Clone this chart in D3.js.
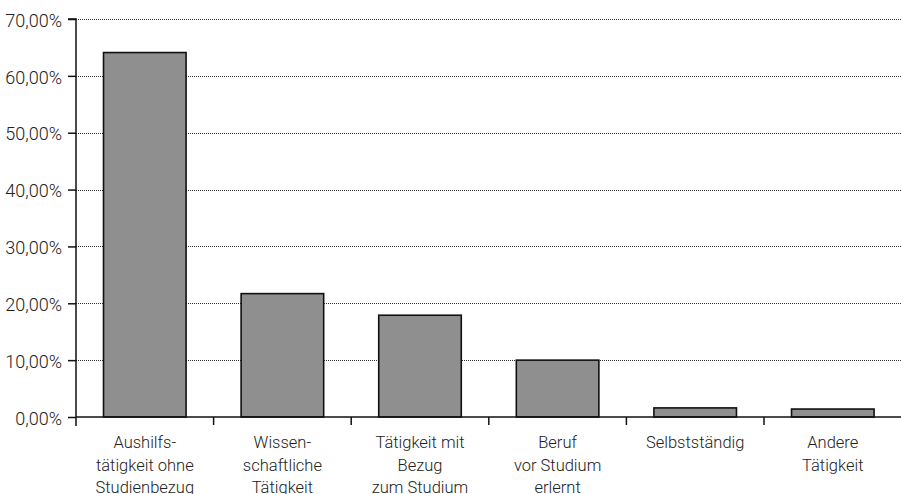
<!DOCTYPE html>
<html>
<head>
<meta charset="utf-8">
<script src="https://d3js.org/d3.v7.min.js"></script>
<style>
  html, body { margin: 0; padding: 0; background: #fff; }
  svg text { font-family: Roboto, "Liberation Sans", Arial, sans-serif; font-weight: 300; fill: #222; }
</style>
</head>
<body>
<div id="chart"></div>
<script>
// Tätigkeitsarten – Anteil in Prozent
const categories = [
    ['Aushilfs-', 'tätigkeit ohne', 'Studienbezug'],
    ['Wissen-', 'schaftliche', 'Tätigkeit'],
    ['Tätigkeit mit', 'Bezug', 'zum Studium'],
    ['Beruf', 'vor Studium', 'erlernt'],
    ['Selbstständig'],
    ['Andere', 'Tätigkeit']
];
const values = [64.1, 21.7, 17.9, 10.0, 1.6, 1.4];
const yTicks = [0, 10, 20, 30, 40, 50, 60, 70];

const width = 901, height = 494;
const margin = {top: 19, right: 0, bottom: 77, left: 76};

const svg = d3.select('#chart')
    .append('svg')
    .attr('width', width)
    .attr('height', height);

const x = d3.scaleBand()
    .domain(d3.range(categories.length))
    .range([margin.left, margin.left + 6 * 137.6])
    .paddingInner(0.4)
    .paddingOuter(0.2);

const y = d3.scaleLinear()
    .domain([0, 70])
    .range([height - margin.bottom, margin.top]);

// dotted grid lines
svg.append('g')
    .selectAll('line')
    .data(yTicks.filter(d => d > 0))
    .join('line')
    .attr('x1', margin.left)
    .attr('x2', width)
    .attr('y1', d => Math.round(y(d)) + 0.5)
    .attr('y2', d => Math.round(y(d)) + 0.5)
    .attr('stroke', '#333')
    .attr('stroke-width', 1)
    .attr('stroke-dasharray', '1,1');

// bars
svg.append('g')
    .selectAll('rect')
    .data(values)
    .join('rect')
    .attr('x', (d, i) => x(i))
    .attr('y', d => y(d))
    .attr('width', x.bandwidth())
    .attr('height', d => y(0) - y(d))
    .attr('fill', '#8e8f8e')
    .attr('stroke', '#111')
    .attr('stroke-width', 1.6);

// y axis
const fmt = d => d3.format('.2f')(d).replace('.', ',') + '%';
const yAxis = svg.append('g')
    .attr('transform', `translate(${margin.left},0)`)
    .call(d3.axisLeft(y).tickValues(yTicks).tickFormat(fmt).tickSize(8).tickPadding(6));
yAxis.select('.domain').attr('stroke', '#111').attr('stroke-width', 1.5).attr('d', `M-8,${y(70)}H0V${y(0) + 9}`);
yAxis.selectAll('.tick line').attr('stroke', '#111').attr('stroke-width', 1.5);
yAxis.selectAll('.tick text')
    .attr('dy', '0.4em')
    .style('font-size', '18px')
    .style('fill', '#222');

// x axis: base line and ticks between categories
const step = x.step();
const bandStarts = d3.range(categories.length).map(i => x(i) - step * x.paddingOuter());
const xAxis = svg.append('g');
xAxis.append('line')
    .attr('x1', margin.left)
    .attr('x2', width)
    .attr('y1', y(0))
    .attr('y2', y(0))
    .attr('stroke', '#111')
    .attr('stroke-width', 1.5);
xAxis.selectAll('.xtick')
    .data(bandStarts.slice(1))
    .join('line')
    .attr('class', 'xtick')
    .attr('x1', d => d)
    .attr('x2', d => d)
    .attr('y1', y(0))
    .attr('y2', y(0) + 8)
    .attr('stroke', '#111')
    .attr('stroke-width', 1.5);

// category labels
const labels = svg.append('g')
    .selectAll('text')
    .data(categories)
    .join('text')
    .attr('text-anchor', 'middle')
    .attr('x', (d, i) => x(i) + x.bandwidth() / 2)
    .attr('y', 448)
    .style('font-size', '16.5px');

labels.selectAll('tspan')
    .data(d => d)
    .join('tspan')
    .attr('x', function () { return d3.select(this.parentNode).attr('x'); })
    .attr('dy', (d, i) => i === 0 ? 0 : 22.5)
    .text(d => d);
</script>
</body>
</html>
